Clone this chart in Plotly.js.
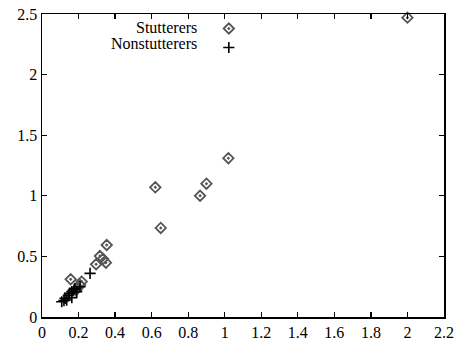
<!DOCTYPE html>
<html>
<head>
<meta charset="utf-8">
<script src="https://cdn.plot.ly/plotly-3.0.1.min.js"></script>
<style>html,body{margin:0;padding:0;background:#fff;}#chart{width:457px;height:347px;}</style>
</head>
<body>
<div id="chart"></div>
<script>
const seriesNames = ["Stutterers", "Nonstutterers"];
const stuttererX = [2.00, 1.02, 0.62, 0.65, 0.865, 0.90, 0.354, 0.317, 0.350, 0.296, 0.334, 0.157, 0.217, 0.208, 0.193, 0.186];
const stuttererY = [2.47, 1.31, 1.07, 0.735, 1.00, 1.10, 0.594, 0.503, 0.448, 0.435, 0.479, 0.311, 0.292, 0.264, 0.237, 0.223];
const nonX = [0.263, 0.108, 0.126, 0.144, 0.163, 0.180, 0.135, 0.190, 0.208, 0.163, 0.120, 0.150, 0.175];
const nonY = [0.360, 0.126, 0.154, 0.180, 0.209, 0.237, 0.140, 0.209, 0.250, 0.160, 0.135, 0.195, 0.225];
const xTicks = [0, 0.2, 0.4, 0.6, 0.8, 1, 1.2, 1.4, 1.6, 1.8, 2, 2.2];
const xTickText = ["0", "0.2", "0.4", "0.6", "0.8", "1", "1.2", "1.4", "1.6", "1.8", "2", "2.2"];
const yTicks = [0, 0.5, 1, 1.5, 2, 2.5];
const yTickText = ["0", "0.5", "1", "1.5", "2", "2.5"];

const font = {family: "Liberation Serif, Times New Roman, serif", size: 16, color: "#000"};

const traces = [
  {x: stuttererX, y: stuttererY, type: "scatter", mode: "markers", name: "",
   hovertext: seriesNames[0], cliponaxis: false,
   marker: {symbol: "diamond-open-dot", size: 8, color: "#555", line: {width: 1.8, color: "#555"}}},
  {x: nonX, y: nonY, type: "scatter", mode: "markers", name: "",
   hovertext: seriesNames[1], cliponaxis: false,
   marker: {symbol: "cross-thin-open", size: 8, color: "#000", line: {width: 1.6, color: "#000"}}}
];

const axisCommon = {
  showgrid: false, zeroline: false, showline: true, linecolor: "#000", linewidth: 1.5,
  mirror: "ticks", ticks: "inside", ticklen: 5, tickwidth: 1.2, tickcolor: "#000",
  tickfont: font, fixedrange: true
};

const layout = {
  width: 457, height: 347,
  margin: {l: 42, r: 13, t: 14, b: 30},
  paper_bgcolor: "#fff", plot_bgcolor: "#fff",
  font: font,
  showlegend: true,
  legend: {x: 0.415, y: 1.0, xanchor: "left", yanchor: "top", bgcolor: "rgba(0,0,0,0)",
           itemwidth: 30, tracegroupgap: 0, font: {family: font.family, size: 9}},
  xaxis: Object.assign({}, axisCommon, {range: [0, 2.2], tickvals: xTicks, ticktext: xTickText}),
  yaxis: Object.assign({}, axisCommon, {range: [0, 2.5], tickvals: yTicks, ticktext: yTickText}),
  annotations: [
    {text: seriesNames[0], xref: "paper", yref: "paper", x: 0.39, y: 0.954, xanchor: "right", yanchor: "middle", showarrow: false, font: font},
    {text: seriesNames[1], xref: "paper", yref: "paper", x: 0.39, y: 0.901, xanchor: "right", yanchor: "middle", showarrow: false, font: font}
  ]
};

Plotly.newPlot("chart", traces, layout, {displayModeBar: false, staticPlot: true});
</script>
</body>
</html>
